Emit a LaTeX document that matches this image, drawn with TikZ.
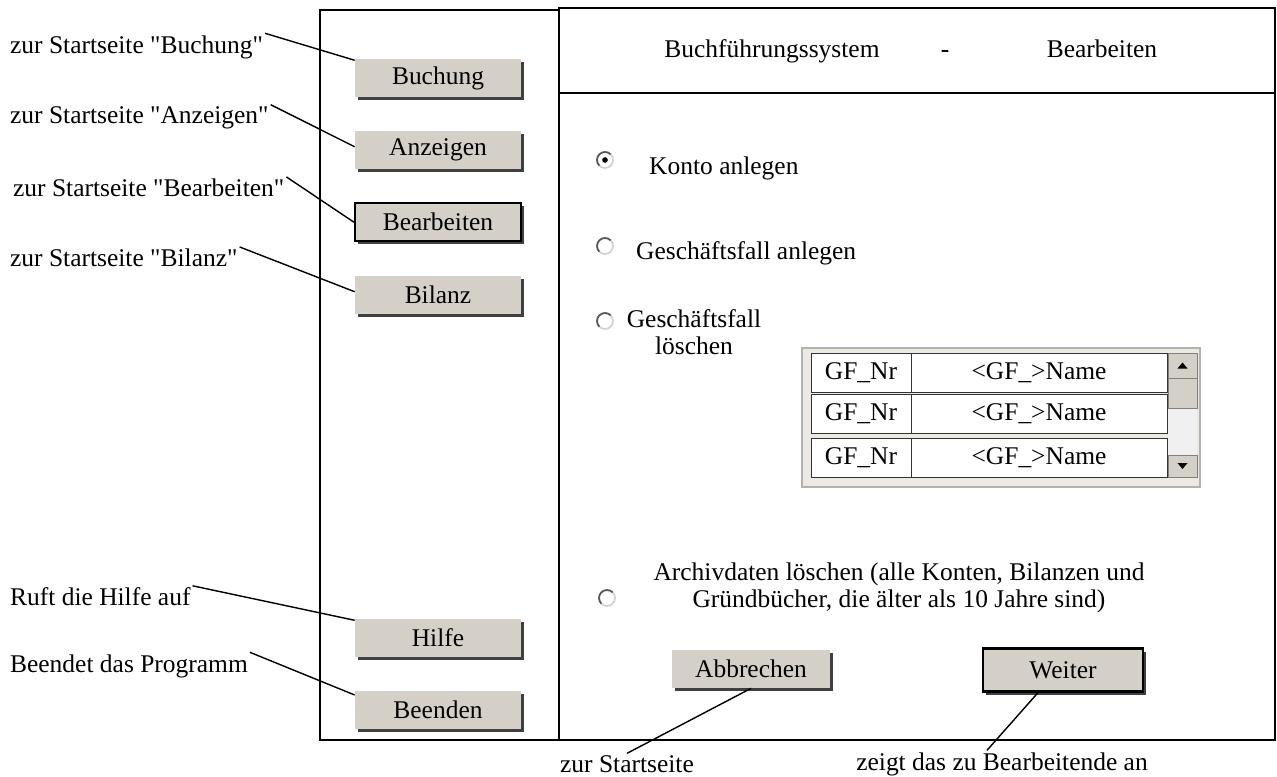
\documentclass[tikz,border=0pt]{standalone}
\usepackage{fontspec}
\setmainfont{Liberation Serif}
\usepackage{xcolor}
\usetikzlibrary{positioning,calc,shadows}
\definecolor{btngray}{RGB}{212,208,200}
\definecolor{btnshade}{RGB}{64,64,64}
\definecolor{listgray}{RGB}{236,233,226}

\begin{document}
\begin{tikzpicture}[x=0.02cm, y=-0.02cm, font=\fontsize{14.5}{15.5}\selectfont]
    % Styles
    \tikzstyle{button} = [fill=btngray, minimum width=3.32cm, minimum height=0.76cm, inner sep=0pt, drop shadow={shadow xshift=0.06cm, shadow yshift=-0.06cm, fill=btnshade, opacity=1}]
    \tikzstyle{pressed} = [button, draw=black, line width=1.3pt]
    \tikzstyle{panel} = [line width=1.1pt]
    \tikzstyle{pointer} = [line width=0.8pt]
    \tikzstyle{note} = [inner sep=1pt]
    \tikzstyle{radio} = [circle, draw=gray!35, fill=white, line width=1pt, minimum size=0.32cm, inner sep=0pt]
    \tikzstyle{cell} = [draw=black!80, fill=white, minimum height=0.78cm, inner sep=0pt]
    \tikzstyle{sbtn} = [fill=btngray, draw=gray, minimum width=0.58cm, inner sep=0pt]

    \useasboundingbox (0,0) rectangle (1277,777);

    % Panels
    \draw[panel] (320,10) rectangle (559,740);
    \draw[panel] (559,8) rectangle (1275,740);
    \draw[panel] (559,93) -- (1275,93);

    % Menu buttons
    \node [button] (buch) at (438,78) {Buchung};
    \node [button, below=0.66cm of buch] (anz) {Anzeigen};
    \node [pressed, below=0.66cm of anz] (bearb) {Bearbeiten};
    \node [button, below=0.66cm of bearb] (bil) {Bilanz};
    \node [button] (hilfe) at (438,638) {Hilfe};
    \node [button, below=0.66cm of hilfe] (beend) {Beenden};

    % Notes - menu
    \node [note, anchor=west] (lbuch) at (8,47) {zur Startseite \textquotedbl Buchung\textquotedbl};
    \node [note, anchor=west] (lanz) at (8,118) {zur Startseite \textquotedbl Anzeigen\textquotedbl};
    \node [note, anchor=west] (lbearb) at (11,188) {zur Startseite \textquotedbl Bearbeiten\textquotedbl};
    \node [note, anchor=west] (lbil) at (8,258) {zur Startseite \textquotedbl Bilanz\textquotedbl};
    \node [note, anchor=west] (lhilfe) at (8,597) {Ruft die Hilfe auf};
    \node [note, anchor=west] (lbeend) at (8,666) {Beendet das Programm};

    \draw[pointer] (lbuch.north east) -- (buch.168);
    \draw[pointer] (lanz.north east) -- (anz.178);
    \draw[pointer] (lbearb.north east) -- (bearb.west);
    \draw[pointer] (lbil.north east) -- (bil.178);
    \draw[pointer] (lhilfe.north east) -- (hilfe.168);
    \draw[pointer] (lbeend.north east) -- (beend.170);

    % Header
    \node [anchor=base] (titel) at (772,58) {Buchführungssystem};
    \node [anchor=base] (strich) at (945,58) {-};
    \node [anchor=base] (modus) at (1102,58) {Bearbeiten};

    % Options
    \node [radio] (r1) at (605,160) {};
    \fill (r1) circle (1.6pt);
    \node [anchor=west] (t1) at (643,168) {Konto anlegen};
    \node [radio] (r2) at (605,246) {};
    \node [anchor=west] (t2) at (630,253) {Geschäftsfall anlegen};
    \node [radio] (r3) at (605,321) {};
    \node [align=center] (t3) at (694,332) {Geschäftsfall\\löschen};
    \node [radio] (r4) at (607,598) {};
    \node [align=center] (t4) at (899,588) {Archivdaten löschen (alle Konten, Bilanzen und\\Gründbücher, die älter als 10 Jahre sind)};
    \foreach \n in {r1,r2,r3,r4}
        \draw[black!65, line width=1pt] ([shift={(45:0.16cm)}]\n.center) arc[start angle=45, end angle=225, radius=0.16cm];

    % List
    \draw[fill=listgray, draw=gray!60, line width=0.8pt] (802,348) rectangle (1200,487);
    \foreach \r/\y in {1/372.5,2/413.5,3/457.5}{
        \node [cell, minimum width=2cm] (nr\r) at (861,\y) {GF\_Nr};
        \node [cell, minimum width=5.12cm] (nm\r) at (1039,\y) {<GF\_>Name};
    }
    \fill[gray!12] (1168,353) rectangle (1197,477);
    \node [sbtn, minimum height=0.5cm] (up) at (1182.5,365.5) {};
    \node [sbtn, minimum height=0.6cm] (thumb) at (1182.5,393) {};
    \node [sbtn, minimum height=0.44cm] (down) at (1182.5,466) {};
    \fill (up.center) ++(-5,3) -- ++(10,0) -- ++(-5,-6) -- cycle;
    \fill (down.center) ++(-5,-3) -- ++(10,0) -- ++(-5,6) -- cycle;

    % Actions
    \node [button, minimum width=3.16cm] (abbr) at (751,669) {Abbrechen};
    \node [pressed, minimum width=3.2cm, minimum height=0.86cm] (weiter) at (1063,670) {Weiter};
    \node [note] (lzs) at (627,764) {zur Startseite};
    \node [note] (lzb) at (1002,764) {zeigt das zu Bearbeitende an};
    \draw[pointer] (abbr.south) -- (lzs.north);
    \draw[pointer] ($(weiter.south)+(-25,0)$) -- ($(lzb.north)+(-15,0)$);

\end{tikzpicture}
\end{document}
